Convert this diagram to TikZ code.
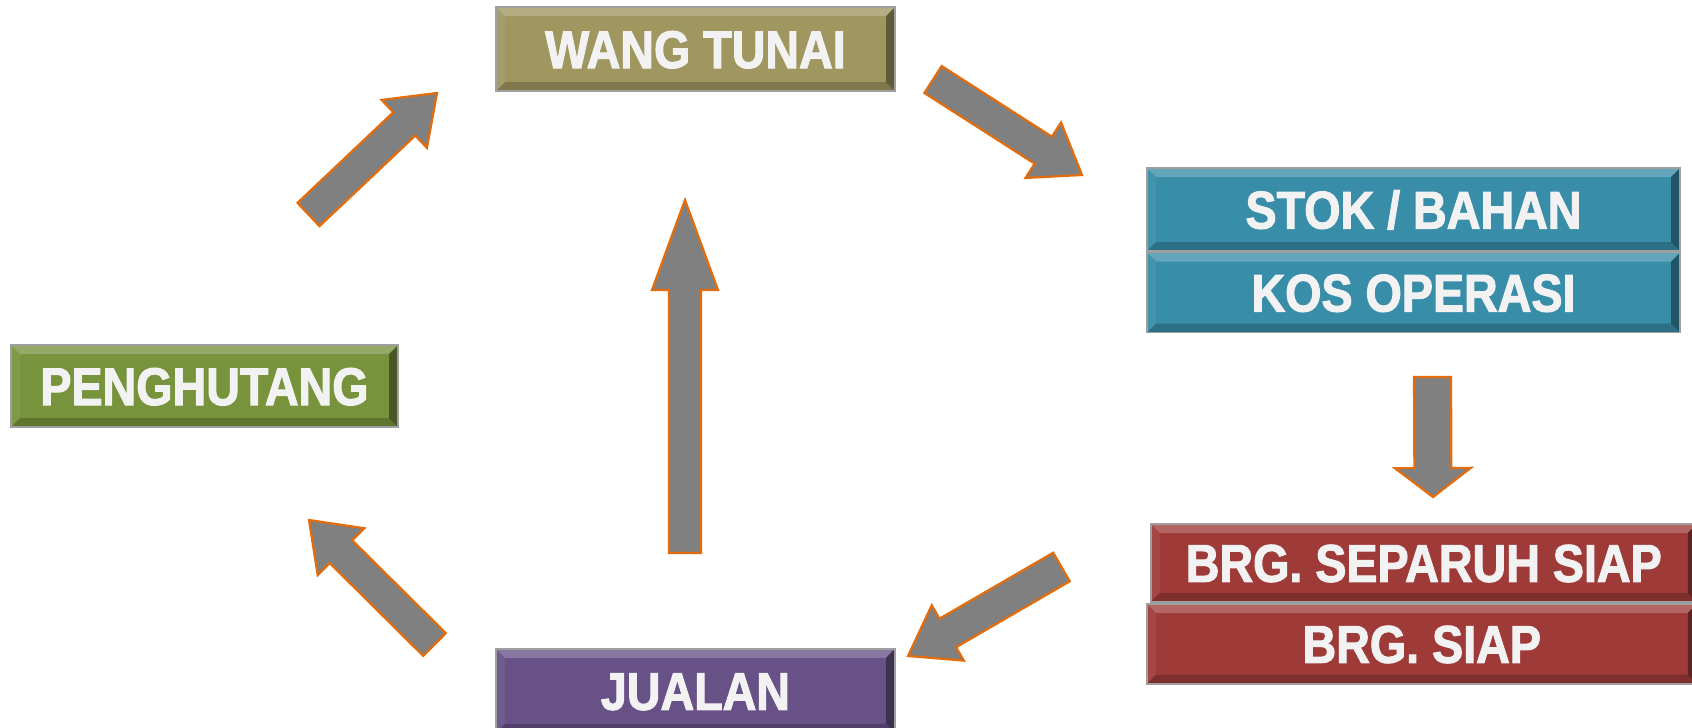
\documentclass[tikz,border=0pt]{standalone}
\usepackage{fontspec}
\setmainfont{Liberation Sans}[FakeStretch=0.88,BoldFeatures={FakeBold=2}]
\usetikzlibrary{calc,positioning}

\definecolor{cashcol}{RGB}{160,151,96}
\definecolor{stockcol}{RGB}{56,141,168}
\definecolor{debtcol}{RGB}{119,147,60}
\definecolor{salescol}{RGB}{103,81,134}
\definecolor{goodscol}{RGB}{158,59,57}
\definecolor{boxtext}{RGB}{242,242,242}
\definecolor{flowgray}{RGB}{128,128,128}
\definecolor{floworange}{RGB}{228,108,10}

% block arrow: tail, tip, shaft width, head width, head length
\newcommand{\blockarrow}[5]{%
  \coordinate (hb) at ($(#2)!#5!(#1)$);
  \draw[flow] ($(#1)!#3/2!90:(#2)$) -- ($(hb)!#3/2!90:(#2)$) -- ($(hb)!#4/2!90:(#2)$) -- (#2)
    -- ($(hb)!#4/2!-90:(#2)$) -- ($(hb)!#3/2!-90:(#2)$) -- ($(#1)!#3/2!-90:(#2)$) -- cycle;
}

\begin{document}
\begin{tikzpicture}[
        x=1pt, y=-1pt,
        box/.style={
            draw=gray!75, line width=1.5pt, fill=#1,
            text=boxtext, inner sep=0pt,
            text height=38pt, text depth=0pt,
            font=\bfseries\fontsize{53}{58}\selectfont,
            path picture={
                \coordinate (nw) at (path picture bounding box.north west);
                \coordinate (ne) at (path picture bounding box.north east);
                \coordinate (sw) at (path picture bounding box.south west);
                \coordinate (se) at (path picture bounding box.south east);
                \fill[white,opacity=.22] (nw) -- (ne) -- ([shift={(-9pt,-9pt)}]ne) -- ([shift={(9pt,-9pt)}]nw) -- cycle;
                \fill[white,opacity=.06] (nw) -- ([shift={(9pt,-9pt)}]nw) -- ([shift={(9pt,9pt)}]sw) -- (sw) -- cycle;
                \fill[black,opacity=.2] (sw) -- (se) -- ([shift={(-9pt,9pt)}]se) -- ([shift={(9pt,9pt)}]sw) -- cycle;
                \fill[black,opacity=.4] (ne) -- (se) -- ([shift={(-9pt,9pt)}]se) -- ([shift={(-9pt,-9pt)}]ne) -- cycle;
            }
        },
        flow/.style={fill=flowgray, draw=floworange, line width=2.2pt, line join=miter}
      ]

  \useasboundingbox (0,0) rectangle (1692,728);
  \fill[white] (0,0) rectangle (1692,728);
  \clip (0,0) rectangle (1692,728);

  \node   (cash) [box=cashcol,minimum width=399pt,minimum height=84pt] at (695.5,49) {WANG TUNAI};
  \node   (stock) [box=stockcol,minimum width=533pt,minimum height=83pt] at (1413.5,209.5) {STOK / BAHAN};
  \node   (opcost) [below=0pt of stock,box=stockcol,minimum width=533pt,minimum height=80pt] {KOS OPERASI};
  \node   (debtor) [box=debtcol,minimum width=387pt,minimum height=82pt] at (204.5,386) {PENGHUTANG};
  \node   (sales) [box=salescol,minimum width=399pt,minimum height=84pt,anchor=north] at (695.5,648) {JUALAN};
  \node   (wip) [box=goodscol,minimum width=546pt,minimum height=78pt,anchor=north west] at (1150,523) {BRG. SEPARUH SIAP};
  \node   (goods) [box=goodscol,minimum width=550pt,minimum height=80pt,anchor=north west] at (1146,603) {BRG. SIAP};

  % arrow ends
  \coordinate (debt-out) at (308.5,214.5);
  \coordinate (cash-in) at (437,93);
  \coordinate (cash-out) at (933,79.5);
  \coordinate (stock-in) at (1082,175);
  \coordinate (cost-out) at (1432.5,377);
  \coordinate (wip-in) at (1433,497);
  \coordinate (goods-out) at (1061.5,567);
  \coordinate (sales-in) at (908,656);
  \coordinate (sales-out) at (434.5,644.5);
  \coordinate (debt-in) at (309,520);
  \coordinate (sales-up) at (685,553);
  \coordinate (cash-up) at (685,200);

  \blockarrow{debt-out}{cash-in}{32pt}{66pt}{45pt}
  \blockarrow{cash-out}{stock-in}{32pt}{66pt}{46pt}
  \blockarrow{cost-out}{wip-in}{37pt}{76pt}{29pt}
  \blockarrow{goods-out}{sales-in}{33pt}{64pt}{46pt}
  \blockarrow{sales-out}{debt-in}{32pt}{66pt}{45pt}
  \blockarrow{sales-up}{cash-up}{32pt}{66pt}{90pt}

\end{tikzpicture}
\end{document}
